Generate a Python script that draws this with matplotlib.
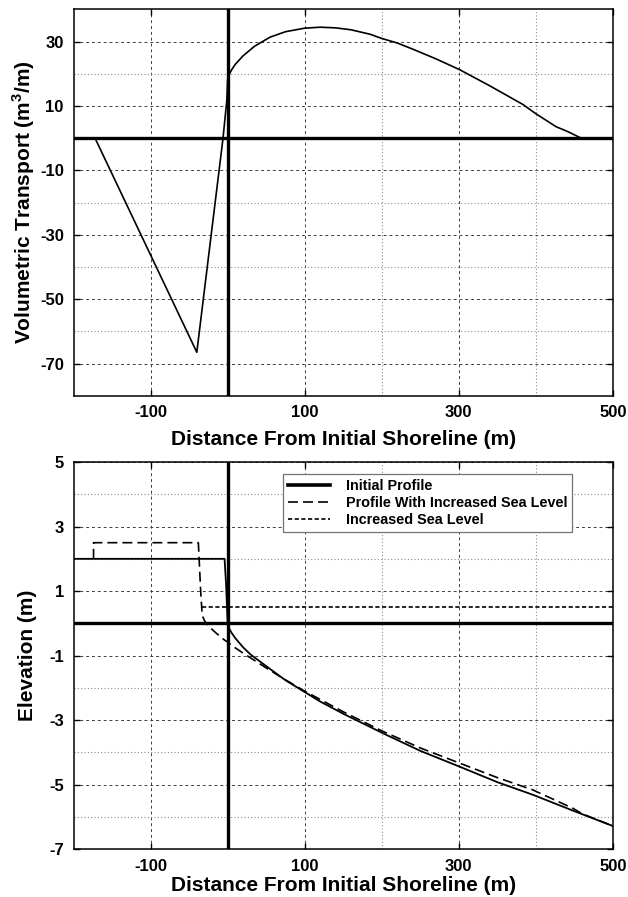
import matplotlib
matplotlib.use("Agg")
import matplotlib.pyplot as plt
from matplotlib.lines import Line2D
from matplotlib.ticker import FixedLocator

plt.rcParams['font.family'] = ['Liberation Sans', 'DejaVu Sans']
plt.rcParams['mathtext.fontset'] = 'custom'
plt.rcParams['mathtext.bf'] = 'Liberation Sans:bold'
plt.rcParams['mathtext.rm'] = 'Liberation Sans:bold'
plt.rcParams['axes.unicode_minus'] = False

# ---- data: top panel (volumetric transport) ----
transport_x = [-172, -40, -6, -1, 0, 2, 5, 10, 20, 35, 55, 75, 100, 120, 140,
               160, 185, 200, 220, 241, 270, 301, 340, 383, 400, 415, 426, 440, 459]
transport_y = [0.0, -66.5, 0.0, 12.0, 18.2, 19.8, 21.2, 23.0, 25.6, 28.6, 31.4,
               33.1, 34.2, 34.5, 34.3, 33.7, 32.3, 31.0, 29.6, 27.6, 24.7,
               21.3, 16.3, 10.5, 7.6, 5.3, 3.6, 2.2, 0.0]

# ---- data: bottom panel (profiles) ----
init_x = [-200, -4, -2, 0, 2, 5, 10, 20, 30, 43, 60, 75, 94, 120, 150, 202,
          250, 301, 350, 396, 450, 500]
init_y = [2.0, 2.0, 1.2, 0.0, -0.16, -0.29, -0.46, -0.74, -0.97, -1.20, -1.50,
          -1.76, -2.04, -2.42, -2.80, -3.41, -3.95, -4.44, -4.92, -5.31,
          -5.82, -6.28]

slr_x = [-174, -174, -38, -35, -33, -30, -25, -15, -5, 0, 10, 20, 35, 50, 75,
         100, 150, 200, 250, 301, 350, 396, 448, 460, 500]
slr_y = [2.0, 2.5, 2.5, 1.0, 0.25, 0.08, -0.08, -0.30, -0.50, -0.58, -0.76,
         -0.92, -1.15, -1.38, -1.75, -2.10, -2.74, -3.33, -3.86, -4.33,
         -4.78, -5.16, -5.73, -5.90, -6.28]

sea_x = [-33, 500]
sea_y = [0.5, 0.5]

legend_labels = ['Initial Profile', 'Profile With Increased Sea Level',
                 'Increased Sea Level']

x_major = [-100, 100, 300, 500]
x_minor = [0, 200, 400]
top_y_major = [-70, -50, -30, -10, 10, 30]
top_y_minor = [-60, -40, -20, 0, 20]
bot_y_major = [-7, -5, -3, -1, 1, 3, 5]
bot_y_minor = [-6, -4, -2, 0, 2, 4]

W, H = 628, 897
fig = plt.figure(figsize=(W / 100, H / 100), dpi=100)

ax1 = fig.add_axes([73.5 / W, 1 - 395.7 / H, (613 - 73.5) / W, (395.7 - 9.5) / H])
ax2 = fig.add_axes([73.5 / W, 1 - 849.3 / H, (613 - 73.5) / W, (849.3 - 462) / H])


def style(ax, ymaj, ymin, ylim):
    ax.set_xlim(-200, 500)
    ax.set_ylim(*ylim)
    ax.xaxis.set_major_locator(FixedLocator(x_major))
    ax.xaxis.set_minor_locator(FixedLocator(x_minor))
    ax.yaxis.set_major_locator(FixedLocator(ymaj))
    ax.yaxis.set_minor_locator(FixedLocator(ymin))
    ax.grid(which='major', color='0.25', linestyle=(0, (3, 3)), linewidth=0.7)
    ax.grid(which='minor', color='0.55', linestyle=(0, (1, 2)), linewidth=0.8)
    ax.tick_params(which='major', direction='in', length=4, width=1,
                   top=True, right=True, labelsize=12, pad=7)
    ax.tick_params(which='minor', length=0)
    for lab in ax.get_xticklabels() + ax.get_yticklabels():
        lab.set_fontweight('bold')
    for s in ax.spines.values():
        s.set_linewidth(1.1)
        s.set_color('black')
    ax.set_axisbelow(True)
    ax.set_xlabel('Distance From Initial Shoreline (m)', fontsize=15,
                  fontweight='bold')


style(ax1, top_y_major, top_y_minor, (-80, 40))
ax1.axhline(0, color='black', lw=2.4, zorder=3)
ax1.axvline(0, color='black', lw=2.4, zorder=3)
ax1.plot(transport_x, transport_y, color='black', lw=1.2, zorder=4)
ax1.set_ylabel(r'Volumetric Transport (m$^{\mathbf{3}}$/m)', fontsize=15,
               fontweight='bold')
ax1.xaxis.set_label_coords(0.5, -0.089)
ax1.yaxis.set_label_coords(-0.0675, 0.5)

style(ax2, bot_y_major, bot_y_minor, (-7, 5))
ax2.axhline(0, color='black', lw=2.4, zorder=3)
ax2.axvline(0, color='black', lw=2.4, zorder=3)
ax2.plot(init_x, init_y, color='black', lw=1.3, zorder=4)
ax2.plot(slr_x, slr_y, color='black', lw=1.2, linestyle=(0, (6, 3)), zorder=4)
ax2.plot(sea_x, sea_y, color='black', lw=1.2, linestyle=(0, (2.5, 1.5)), zorder=4)
ax2.set_ylabel('Elevation (m)', fontsize=15, fontweight='bold')
ax2.xaxis.set_label_coords(0.5, -0.069)
ax2.yaxis.set_label_coords(-0.0675, 0.5)

handles = [Line2D([], [], color='black', lw=2.6),
           Line2D([], [], color='black', lw=1.2, linestyle=(0, (6, 3))),
           Line2D([], [], color='black', lw=1.2, linestyle=(0, (2.5, 1.5)))]
leg = ax2.legend(handles, legend_labels, loc='upper left',
                 bbox_to_anchor=((283 - 73.5) / 539.5, (849.3 - 474) / 387.3),
                 prop={'family': 'Liberation Sans', 'weight': 'bold', 'size': 10.4},
                 frameon=True, fancybox=False, framealpha=1,
                 edgecolor='0.45', handlelength=2.9, handletextpad=1.1,
                 borderpad=0.35, labelspacing=0.22, borderaxespad=0)
leg.get_frame().set_linewidth(0.9)

fig.savefig('out.png', dpi=100)
